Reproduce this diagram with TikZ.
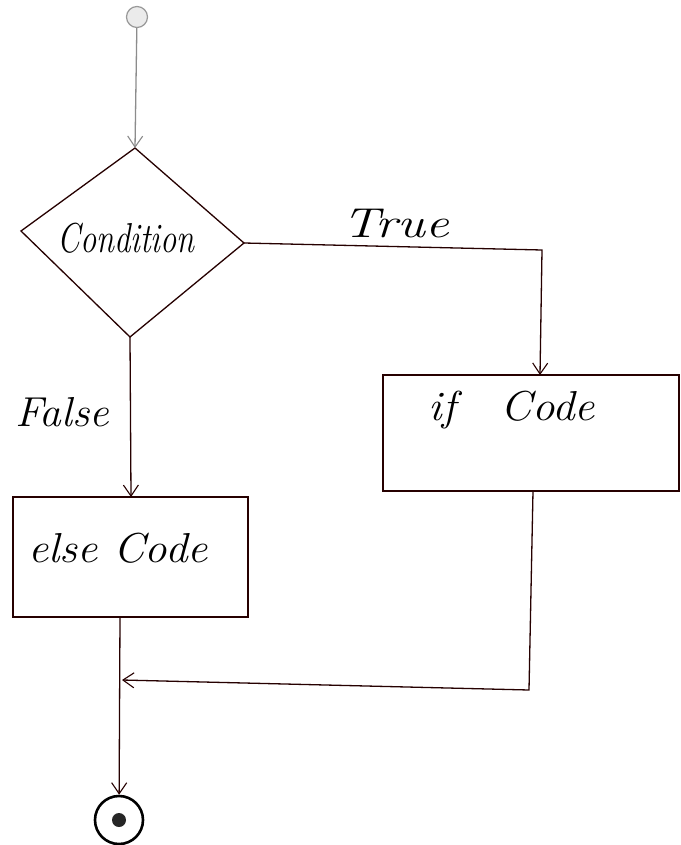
\documentclass[tikz,border=0pt]{standalone}
\usepackage{graphicx}
\usetikzlibrary{arrows.meta}
% handwritten-style label: horizontal stretch, fixed vertical stretch
\newcommand{\handlabel}[2]{\scalebox{#1}[1.35]{#2}}
\begin{document}
\begin{tikzpicture}[x=1pt,y=-1pt,
  ink/.style={draw=black!85!red, line width=1.3pt},
  flow/.style={ink, -{Straight Barb[length=11pt,width=15pt,line width=1.1pt]}},
  lbl/.style={font=\fontsize{31}{36}\selectfont\itshape, text=black, inner sep=0pt},
  boxshape/.style={ink, fill=white}
]
  % page extent
  \useasboundingbox[fill=white] (0,0) rectangle (680,845);

  % start symbol
  \node[draw=black!40, line width=1.2pt, circle, minimum size=21pt, inner sep=0pt, fill=black!8] (start) at (137,17) {};

  % decision diamond
  \coordinate (dtop) at (135,148);
  \coordinate (dleft) at (21,231);
  \coordinate (dright) at (244,243);
  \coordinate (dbot) at (130,337);
  \draw[ink] (dtop) -- (dright) -- (dbot) -- (dleft) -- cycle;
  \node[lbl] (cond) at (126,238) {\handlabel{1.05}{Condition}};

  % process boxes
  \draw[boxshape] (383,375) rectangle (679,491);
  \coordinate (iftop) at (540,375);
  \coordinate (ifbot) at (533,491);
  \node[lbl] (ifcode) at (512,410) {\handlabel{1.45}{if\quad Code}};

  \draw[boxshape] (13,497) rectangle (248,617);
  \coordinate (elsetop) at (131,497);
  \coordinate (elsebot) at (120,617);
  \node[lbl] (elsecode) at (118,548) {\handlabel{1.45}{else Code}};

  % end symbol
  \node[draw=black, line width=2.6pt, circle, minimum size=48pt, inner sep=0pt] (stop) at (119,820) {};
  \fill[black!85] (stop.center) circle (7pt);

  % connectors
  \draw[flow, draw=black!45] (start) -- (dtop);
  \coordinate (tcorner) at (542,250);
  \draw[flow] (dright) -- (tcorner) -- (iftop);
  \node[lbl] (truelbl) at (396,224) {\handlabel{1.7}{True}};
  \draw[flow] (dbot) -- (elsetop);
  \node[lbl] (falselbl) at (62,412) {\handlabel{1.4}{False}};
  \coordinate (rcorner) at (529,690);
  \coordinate (merge) at (122,680);
  \draw[flow] (ifbot) -- (rcorner) -- (merge);
  \draw[flow] (elsebot) -- (stop);
\end{tikzpicture}
\end{document}
